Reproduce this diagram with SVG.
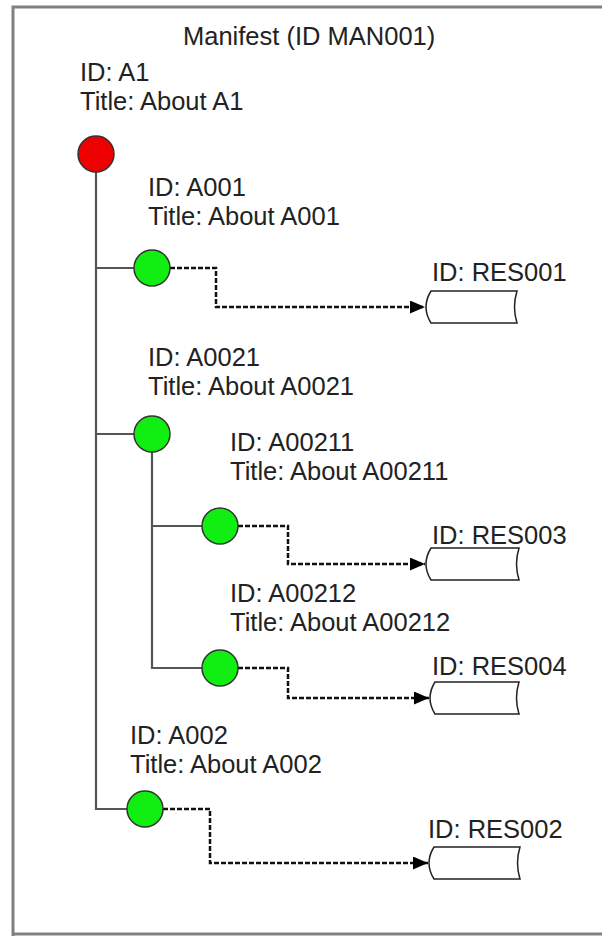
<svg xmlns="http://www.w3.org/2000/svg" width="602" height="936" viewBox="0 0 602 936">
  <style>
    text { font-family: "Liberation Sans", Arial, sans-serif; font-size: 25.5px; fill: #222; }
    .tree { fill: none; stroke: #555; stroke-width: 2.2; }
    .link { fill: none; stroke: #111; stroke-width: 2.5; stroke-dasharray: 5 2; }
    .root { fill: #ee0000; stroke: #333; stroke-width: 1.5; }
    .item { fill: #11ee11; stroke: #333; stroke-width: 1.5; }
    .res { fill: #fff; stroke: #222; stroke-width: 1.5; }
  </style>
  <defs>
    <marker id="arrow" viewBox="0 0 15 13" refX="15" refY="6.5" markerWidth="15" markerHeight="13" markerUnits="userSpaceOnUse" orient="auto">
      <path d="M0,0 L15,6.5 L0,13 Z" fill="#000"/>
    </marker>
  </defs>
  <rect x="0" y="0" width="602" height="936" fill="#fff"/>
  <path d="M13,936 V7 H602 M13,934 H602" fill="none" stroke="#808080" stroke-width="3"/>
  <text x="183" y="45">Manifest (ID MAN001)</text>

  <g id="connectors">
    <path class="tree" d="M96,172 V809 H127"/>
    <path class="tree" d="M96,268 H134"/>
    <path class="tree" d="M96,434 H134"/>
    <path class="tree" d="M152,452 V668 H202"/>
    <path class="tree" d="M152,526 H202"/>
    <path class="link" d="M170,268 H216 V307 H425" marker-end="url(#arrow)"/>
    <path class="link" d="M238,526 H288 V564 H425" marker-end="url(#arrow)"/>
    <path class="link" d="M238,668 H288 V698 H429" marker-end="url(#arrow)"/>
    <path class="link" d="M163,809 H210 V863 H428" marker-end="url(#arrow)"/>
  </g>

  <g id="A1">
    <text x="80" y="81">ID: A1</text>
    <text x="80" y="110">Title: About A1</text>
    <circle class="root" cx="96" cy="154" r="18"/>
  </g>
  <g id="A001">
    <text x="148" y="196">ID: A001</text>
    <text x="148" y="225">Title: About A001</text>
    <circle class="item" cx="152" cy="268" r="18"/>
  </g>
  <g id="A0021">
    <text x="148" y="366">ID: A0021</text>
    <text x="148" y="395">Title: About A0021</text>
    <circle class="item" cx="152" cy="434" r="18"/>
  </g>
  <g id="A00211">
    <text x="230" y="451">ID: A00211</text>
    <text x="230" y="480">Title: About A00211</text>
    <circle class="item" cx="220" cy="526" r="18"/>
  </g>
  <g id="A00212">
    <text x="230" y="602">ID: A00212</text>
    <text x="230" y="631">Title: About A00212</text>
    <circle class="item" cx="220" cy="668" r="18"/>
  </g>
  <g id="A002">
    <text x="130" y="744">ID: A002</text>
    <text x="130" y="773">Title: About A002</text>
    <circle class="item" cx="145" cy="809" r="18"/>
  </g>

  <g id="RES001">
    <text x="432" y="281">ID: RES001</text>
    <path class="res" d="M431,291 H517 Q512,307 517,323 H431 Q421,307 431,291 Z"/>
  </g>
  <g id="RES003">
    <text x="432" y="544">ID: RES003</text>
    <path class="res" d="M431,548 H519 Q514,564 519,580 H431 Q421,564 431,548 Z"/>
  </g>
  <g id="RES004">
    <text x="432" y="675">ID: RES004</text>
    <path class="res" d="M435,682 H519 Q514,698 519,714 H435 Q425,698 435,682 Z"/>
  </g>
  <g id="RES002">
    <text x="428" y="838">ID: RES002</text>
    <path class="res" d="M434,847 H520 Q515,863 520,879 H434 Q424,863 434,847 Z"/>
  </g>
</svg>
